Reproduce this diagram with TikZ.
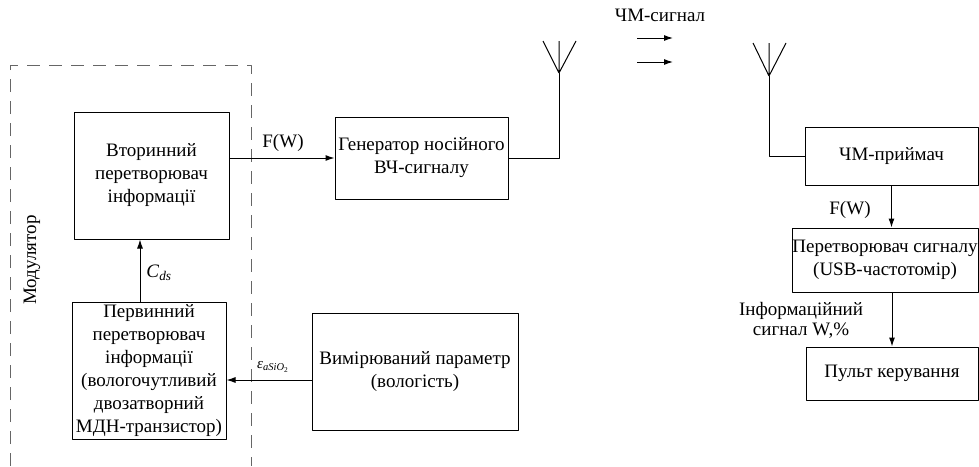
\documentclass[tikz,border=0pt]{standalone}
\usepackage{fontspec}
\setmainfont{Liberation Serif}
\usetikzlibrary{arrows.meta}
\tikzset{
  blok/.style={draw, line width=1pt, inner sep=0pt, align=center, font=\fontsize{19}{23}\selectfont},
  strilka/.style={line width=1pt, -{Latex[length=9pt,width=6pt]}},
  lin/.style={line width=1pt},
  mitka/.style={inner sep=0pt, align=center, font=\fontsize{19}{23}\selectfont},
}
\begin{document}
\begin{tikzpicture}[x=1pt, y=-1pt, line join=round]
	\useasboundingbox (0,0) rectangle (979,466);
	% модулятор
	\draw[line width=1pt, black!60, dash pattern=on 13pt off 9pt] (10,466) -- (10,65) -- (251,65) -- (251,466);
	\node[mitka, rotate=90] (modul) at (32,260) {Модулятор};
	\node[blok, minimum width=155, minimum height=127] (vtor) at (151.5,175.5) {Вторинний\\перетворювач\\інформації};
	\node[blok, minimum width=154, minimum height=137] (perv) at (149,370.5) {Первинний\\перетворювач\\інформації\\(вологочутливий\\двозатворний\\МДН-транзистор)};
	% передавач
	\node[blok, minimum width=173, minimum height=82] (gen) at (421.5,158) {Генератор носійного\\ВЧ-сигналу};
	\node[blok, minimum width=206, minimum height=117] (vymir) at (415,371.5) {Вимірюваний параметр\\(вологість)};
	% приймач
	\node[blok, minimum width=173, minimum height=58] (pryim) at (891.5,156) {ЧМ-приймач};
	\node[blok, minimum width=186, minimum height=64] (konv) at (885,260) {Перетворювач сигналу\\(USB-частотомір)};
	\node[blok, minimum width=172, minimum height=53] (pult) at (892,373.5) {Пульт керування};
	% антени
	\coordinate (ant1) at (559,73);
	\coordinate (ant2) at (769,76);
	\draw[lin] (ant1) -- +(-16,-32) (ant1) -- +(17,-32) (ant1) -- +(0,-32);
	\draw[lin] (ant2) -- +(-16,-33) (ant2) -- +(17,-33) (ant2) -- +(0,-33);
	\draw[lin] (gen.east) -| (ant1);
	\draw[lin] (ant2) |- (pryim.west);
	% сигнали
	\node[mitka] (chm) at (660,15) {ЧМ-сигнал};
	\coordinate (h1) at (637,38);
	\coordinate (h2) at (637,62);
	\draw[strilka] (h1) -- +(36,0);
	\draw[strilka] (h2) -- +(36,0);
	\draw[strilka] ([xshift=-9]perv.north) -- ([xshift=-9]perv.north |- vtor.south);
	\node[mitka] (cds) at (159,273) {\textit{C}\textsubscript{\textit{ds}}};
	\draw[strilka] (vtor.east |- gen.west) -- (gen.west);
	\node[mitka] (fw1) at (283,143) {F(W)};
	\draw[strilka] ([yshift=-8.5]vymir.west) -- ([yshift=-8.5]vymir.west -| perv.east);
	\node[mitka, font=\fontsize{15}{18}\selectfont] (eps) at (273,367) {\textit{ε}\textsubscript{\textit{aSiO}\textsubscript{2}}};
	\draw[strilka] (pryim.south) -- (pryim.south |- konv.north);
	\node[mitka] (fw2) at (850,210) {F(W)};
	\draw[strilka] (konv.south -| pult.north) -- (pult.north);
	\node[mitka, font=\fontsize{19}{20}\selectfont] (info) at (801,320) {Інформаційний\\сигнал W,\%};
\end{tikzpicture}
\end{document}
